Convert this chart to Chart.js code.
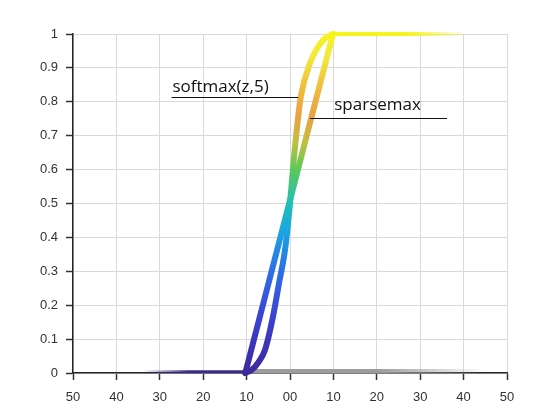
<!DOCTYPE html>
<html>
<head>
<meta charset="utf-8">
<script src="https://cdn.jsdelivr.net/npm/chart.js@4.4.1/dist/chart.umd.min.js"></script>
<style>
  html, body { margin: 0; padding: 0; background: #fff; }
</style>
</head>
<body>
<canvas id="chart" width="560" height="420"></canvas>
<script>
// softmax(z,5)
const softmaxZ = [-10.3, -8.75, -7.37, -5.76, -3.92, -2.53, -1.15, 0.0, 0.92, 1.55, 2.47, 4.61, 7.61, 9.9];
const softmaxP = [0, 0.01, 0.03, 0.068, 0.166, 0.265, 0.363, 0.5, 0.637, 0.717, 0.814, 0.914, 0.982, 1];

// sparsemax is a straight ramp
const sparsemaxZ = [-10.3, 9.9];
const sparsemaxP = [0, 1];

// flat parts of the curves outside the ramp
const lowerTailZ = [-34, -10.3];
const lowerTailP = [0.004, 0.004];
const upperTailZ = [9.9, 41];
const upperTailP = [1, 1];
const baseZ = [-10.3, 45];
const baseP = [0.006, 0.006];

// axis labels
const xTickLabels = ['50', '40', '30', '20', '10', '00', '10', '20', '30', '40', '50'];
const yTickLabels = ['0', '0.1', '0.2', '0.3', '0.4', '0.5', '0.6', '0.7', '0.8', '0.9', '1'];

// curve names and where their leader lines sit (data coords)
const labelText = ['softmax(z,5)', 'sparsemax'];
const labelZ = [-27.1, 10.2];
const labelP = [0.829, 0.776];
const leaderFromZ = [-27.3, 4.6];
const leaderToZ = [1.9, 36.2];
const leaderP = [0.814, 0.752];

// parula-like colour ramp, by height
const rampStops = [
  [0, '#3d2a9a'], [0.15, '#3b3fce'], [0.3, '#2e6ee6'], [0.42, '#1aa6e0'],
  [0.5, '#22bfb5'], [0.6, '#5cc85a'], [0.68, '#c0c040'], [0.76, '#eda043'],
  [0.85, '#f0c040'], [0.93, '#f2e83a'], [1, '#f6f41e']
];

const toPoints = (zs, ps) => zs.map((z, i) => ({ x: z, y: ps[i] }));

function rampGradient(context) {
  const chart = context.chart;
  if (!chart.chartArea) return '#2eb7a4';
  const y = chart.scales.y;
  const g = chart.ctx.createLinearGradient(0, y.getPixelForValue(0), 0, y.getPixelForValue(1));
  rampStops.forEach(s => g.addColorStop(s[0], s[1]));
  return g;
}

function fadeGradient(fromZ, toZ, fromColor, toColor) {
  return function(context) {
    const chart = context.chart;
    if (!chart.chartArea) return fromColor;
    const x = chart.scales.x;
    const g = chart.ctx.createLinearGradient(x.getPixelForValue(fromZ), 0, x.getPixelForValue(toZ), 0);
    g.addColorStop(0, fromColor);
    g.addColorStop(0.55, fromColor);
    g.addColorStop(1, toColor);
    return g;
  };
}

const labelPlugin = {
  id: 'curveLabels',
  afterDatasetsDraw(chart) {
    const ctx = chart.ctx;
    const x = chart.scales.x, y = chart.scales.y;
    ctx.save();
    ctx.strokeStyle = '#111';
    ctx.lineWidth = 1;
    ctx.fillStyle = '#111';
    ctx.font = '17px "Open Sans"';
    ctx.textBaseline = 'alphabetic';
    labelText.forEach((t, i) => {
      const py = Math.round(y.getPixelForValue(leaderP[i])) + 0.5;
      ctx.beginPath();
      ctx.moveTo(x.getPixelForValue(leaderFromZ[i]), py);
      ctx.lineTo(x.getPixelForValue(leaderToZ[i]), py);
      ctx.stroke();
      ctx.fillText(t, x.getPixelForValue(labelZ[i]), y.getPixelForValue(labelP[i]));
    });
    ctx.restore();
  }
};

const tickFont = { family: '"Liberation Sans", Arial, sans-serif', size: 13 };

new Chart(document.getElementById('chart'), {
  type: 'line',
  data: {
    datasets: [
      {
        data: toPoints(softmaxZ, softmaxP),
        borderColor: rampGradient,
        borderWidth: 6,
        cubicInterpolationMode: 'monotone',
        order: 1
      },
      {
        data: toPoints(sparsemaxZ, sparsemaxP),
        borderColor: rampGradient,
        borderWidth: 6,
        tension: 0,
        order: 2
      },
      {
        data: toPoints(upperTailZ, upperTailP),
        borderColor: fadeGradient(upperTailZ[0], upperTailZ[1], '#f6f41e', 'rgba(246,244,30,0)'),
        borderWidth: 4,
        order: 3
      },
      {
        data: toPoints(lowerTailZ, lowerTailP),
        borderColor: fadeGradient(lowerTailZ[1], lowerTailZ[0], '#3a2c8c', 'rgba(58,44,140,0)'),
        borderWidth: 3,
        order: 4
      },
      {
        data: toPoints(baseZ, baseP),
        borderColor: fadeGradient(baseZ[0], baseZ[1], '#9c9c9c', 'rgba(156,156,156,0)'),
        borderWidth: 4,
        order: 5
      }
    ]
  },
  options: {
    responsive: false,
    animation: false,
    devicePixelRatio: 1,
    layout: { padding: { top: 34, right: 53, left: 0, bottom: 0 } },
    elements: { point: { radius: 0 }, line: { borderCapStyle: 'round', borderJoinStyle: 'round' } },
    datasets: { line: { clip: false } },
    plugins: { legend: { display: false }, tooltip: { enabled: false } },
    scales: {
      x: {
        type: 'linear',
        min: -50,
        max: 50,
        ticks: {
          stepSize: 10,
          padding: 10,
          color: '#333',
          font: tickFont,
          maxRotation: 0,
          callback: (v, i) => xTickLabels[i]
        },
        grid: { color: '#d9d9d9', tickColor: '#333', tickLength: 7, tickWidth: 1.5 },
        border: { color: '#262626', width: 1.5 },
        afterFit: s => { s.height = 47; }
      },
      y: {
        min: 0,
        max: 1,
        ticks: {
          stepSize: 0.1,
          padding: 8,
          color: '#333',
          font: tickFont,
          callback: (v, i) => yTickLabels[i]
        },
        grid: { color: '#d9d9d9', tickColor: '#333', tickLength: 7, tickWidth: 1.5 },
        border: { color: '#262626', width: 1.5 },
        afterFit: s => { s.width = 73; }
      }
    }
  },
  plugins: [labelPlugin]
});
</script>
</body>
</html>
